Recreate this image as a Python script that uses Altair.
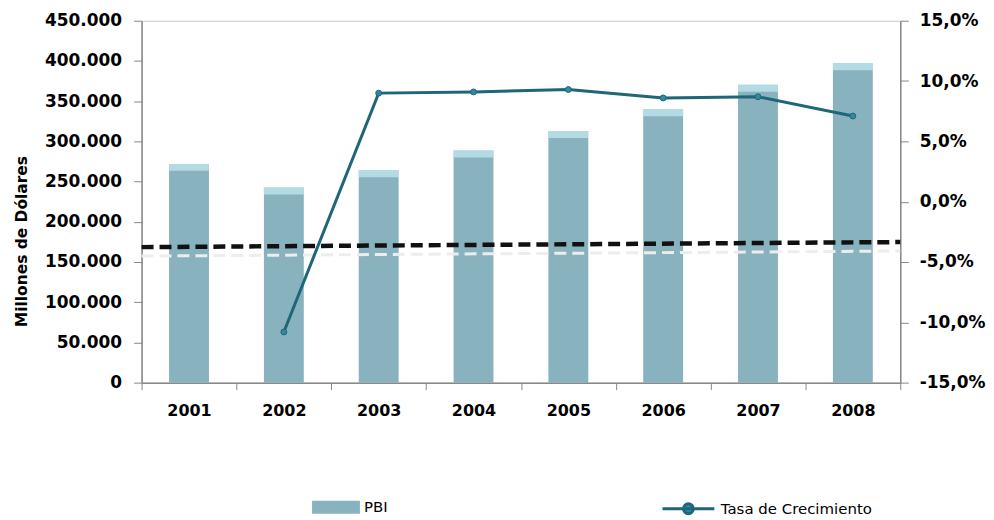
import altair as alt
import pandas as pd

anios = ["2001", "2002", "2003", "2004", "2005", "2006", "2007", "2008"]
pbi = [272000, 242500, 264000, 288500, 313000, 340000, 370500, 397000]
tasa = [None, -0.108, 0.090, 0.091, 0.093, 0.086, 0.087, 0.071]
tendencia_ini = [168500]
tendencia_fin = [174800]

df = pd.DataFrame({
    "anio": anios,
    "pbi": pbi,
    "tasa": tasa,
    "serie_b": ["PBI"] * len(anios),
    "serie_l": ["Tasa de Crecimiento"] * len(anios),
})
df_tend = pd.DataFrame({"pbi": tendencia_ini, "pbi2": tendencia_fin})

FONT = "DejaVu Sans"

x_enc = alt.X(
    "anio:O",
    scale=alt.Scale(paddingInner=0, paddingOuter=0),
    axis=alt.Axis(title=None, labelAngle=0, tickBand="extent", tickSize=7,
                  labelPadding=13, labelFontSize=16),
)

left_axis = alt.Axis(
    values=list(range(0, 450001, 50000)),
    labelExpr="replace(format(datum.value, ','), ',', '.')",
    title="Millones de Dólares",
    titleFont=FONT, titleFontSize=15.5, titleFontWeight="bold", titleColor="black",
    titleX=-120, titleY=221, titleBaseline="middle",
    tickSize=8, labelPadding=12, grid=False,
)
left_scale = alt.Scale(domain=[0, 450000], nice=False)

bars = alt.Chart(df).mark_bar(size=40).encode(
    x=x_enc,
    y=alt.Y("pbi:Q", scale=left_scale, axis=left_axis),
    color=alt.Color("serie_b:N", scale=alt.Scale(range=["#88b2bd"]),
                    legend=alt.Legend(title=None, orient="none", legendX=171, legendY=464,
                                      symbolType="M-1,-0.27L1,-0.27L1,0.27L-1,0.27Z",
                                      symbolSize=2304, symbolStrokeWidth=0,
                                      labelFontSize=15, labelFont=FONT, labelOffset=4)),
)

caps = alt.Chart(df).mark_tick(size=40, thickness=7, yOffset=3.5, color="#c6ecf4").encode(
    x=alt.X("anio:O"),
    y=alt.Y("pbi:Q", scale=left_scale, axis=left_axis),
)

trend_shadow = alt.Chart(df_tend).mark_rule(
    color="#ededed", strokeWidth=3, strokeDash=[12, 6], yOffset=9, y2Offset=9
).encode(
    x=alt.value(0), x2=alt.value("width"),
    y=alt.Y("pbi:Q", scale=left_scale, axis=left_axis), y2="pbi2:Q",
)

trend = alt.Chart(df_tend).mark_rule(
    color="#111111", strokeWidth=4.5, strokeDash=[12, 6]
).encode(
    x=alt.value(0), x2=alt.value("width"),
    y=alt.Y("pbi:Q", scale=left_scale, axis=left_axis), y2="pbi2:Q",
)

right_axis = alt.Axis(
    orient="right",
    values=[-0.15, -0.10, -0.05, 0.0, 0.05, 0.10, 0.15],
    labelExpr="replace(replace(format(datum.value, '.1%'), '.', ','), '\u2212', '-')",
    title=None, tickSize=8, labelPadding=11, grid=False,
)
right_scale = alt.Scale(domain=[-0.15, 0.15], nice=False)

line = alt.Chart(df).mark_line(strokeWidth=3).encode(
    x=alt.X("anio:O"),
    y=alt.Y("tasa:Q", scale=right_scale, axis=right_axis),
    stroke=alt.Stroke("serie_l:N", scale=alt.Scale(range=["#1f6678"]),
                      legend=alt.Legend(title=None, orient="none", legendX=521, legendY=462,
                                        symbolType="M-1,0L1,0M-0.19,0A0.19,0.19 0 1,0 0.19,0A0.19,0.19 0 1,0 -0.19,0Z",
                                        symbolSize=2704, symbolStrokeWidth=3,
                                        symbolFillColor="#2e8aa3",
                                        labelFontSize=15, labelFont=FONT, labelOffset=5)),
)

pts = alt.Chart(df).mark_point(filled=True, size=35, color="#2e8aa3", opacity=1,
                               stroke="#1f6678", strokeWidth=1).encode(
    x=alt.X("anio:O"),
    y=alt.Y("tasa:Q", scale=right_scale, axis=right_axis),
)

left = alt.layer(bars, caps, trend_shadow, trend)
right = alt.layer(line, pts)

chart = alt.layer(left, right).resolve_scale(y="independent").properties(
    width=761, height=363,
    autosize=alt.AutoSizeParams(type="none"),
    padding={"left": 134, "top": 12, "right": 86, "bottom": 137},
).configure_axis(
    labelFont=FONT, labelFontWeight="bold", labelFontSize=17, labelColor="black",
    domainColor="#888888", tickColor="#888888", domainWidth=1.5,
).configure_view(
    stroke="#c8c8c8",
).configure_legend(
    padding=0, labelColor="black",
)

chart.save("out.html", embed_options={"renderer": "svg", "actions": False})
